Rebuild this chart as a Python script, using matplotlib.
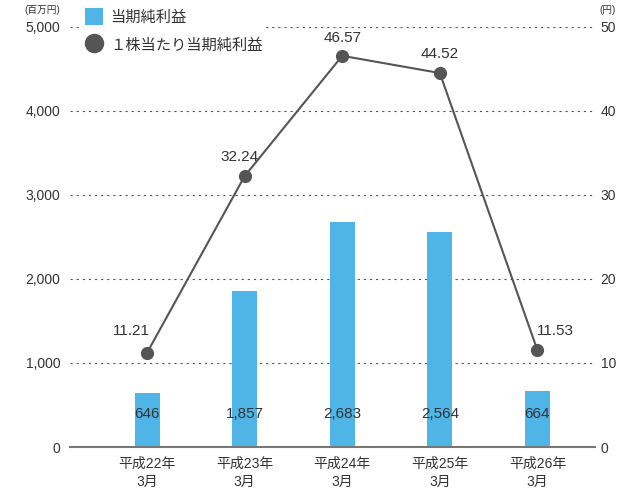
import matplotlib
matplotlib.use("Agg")
import matplotlib.pyplot as plt
from matplotlib.lines import Line2D
from matplotlib.patches import Patch

plt.rcParams['font.family'] = ['Liberation Sans', 'Noto Sans CJK JP', 'DejaVu Sans']

categories = ["平成22年\n3月", "平成23年\n3月", "平成24年\n3月", "平成25年\n3月", "平成26年\n3月"]
net_income = [646, 1857, 2683, 2564, 664]
eps = [11.21, 32.24, 46.57, 44.52, 11.53]
left_ticks = [0, 1000, 2000, 3000, 4000, 5000]
right_ticks = [0, 10, 20, 30, 40, 50]

bar_color = "#4FB5E6"
line_color = "#555555"
text_color = "#333333"

fig = plt.figure(figsize=(6.17, 4.9), dpi=100)
ax = fig.add_axes([70 / 617, 43 / 490, 525 / 617, 420 / 490])
x = list(range(len(categories)))

ax.bar(x, net_income, width=0.256, color=bar_color, zorder=2)
ax.set_xlim(-0.789, 4.59)
ax.set_ylim(0, 5000)
ax.set_yticks(left_ticks)
ax.set_yticklabels([f"{v:,}" for v in left_ticks])
ax.set_xticks(x)
ax.set_xticklabels(categories, fontsize=10.5, color=text_color, linespacing=1.35)
ax.tick_params(axis='both', length=0, labelsize=10, colors=text_color)
ax.tick_params(axis='y', pad=7)
ax.tick_params(axis='x', pad=7)
for v in left_ticks[1:]:
    ax.axhline(v, color="#555555", lw=0.8, ls=(0, (2, 3.5)), zorder=1)
for s in ['top', 'left', 'right']:
    ax.spines[s].set_visible(False)
ax.spines['bottom'].set_color("#777777")
ax.spines['bottom'].set_linewidth(1.5)

for xi, v in zip(x, net_income):
    ax.text(xi, 390, f"{v:,}", ha='center', va='center', fontsize=11, color=text_color, zorder=3)

ax2 = ax.twinx()
ax2.set_ylim(0, 50)
ax2.set_yticks(right_ticks)
ax2.set_yticklabels([str(v) for v in right_ticks])
ax2.tick_params(axis='y', length=0, labelsize=10, colors=text_color, pad=4)
for s in ['top', 'left', 'right', 'bottom']:
    ax2.spines[s].set_visible(False)
ax2.plot(x, eps, color=line_color, lw=1.5, marker='o', markersize=8.5, zorder=4)

offsets = [(-11.5, 11), (-3.6, 9), (0, 7.5), (0, 9), (13, 8.5)]
for xi, v, off in zip(x, eps, offsets):
    ax2.annotate(f"{v:.2f}", (xi, v), xytext=off, textcoords='offset points',
                 ha='center', va='bottom', fontsize=11, color=text_color)

fig.text(42 / 617, 0.99, "(百万円)", fontsize=7, ha='center', va='top', color=text_color)
fig.text(607 / 617, 0.99, "(円)", fontsize=7, ha='center', va='top', color=text_color)

handles = [Patch(facecolor=bar_color, edgecolor='none'),
           Line2D([], [], color=line_color, marker='o', markersize=13, lw=0)]
leg = fig.legend(handles, ["当期純利益", "１株当たり当期純利益"], loc='upper left',
                 bbox_to_anchor=(82 / 617, 1 - 5 / 490), frameon=True, fontsize=11,
                 handlelength=1.2, handleheight=1.3, handletextpad=0.45,
                 labelspacing=0.75, borderpad=0.2, borderaxespad=0)
leg.get_frame().set_facecolor('white')
leg.get_frame().set_edgecolor('none')
leg.get_frame().set_alpha(1)
for t in leg.get_texts():
    t.set_color(text_color)

fig.savefig("out.png", dpi=100)
